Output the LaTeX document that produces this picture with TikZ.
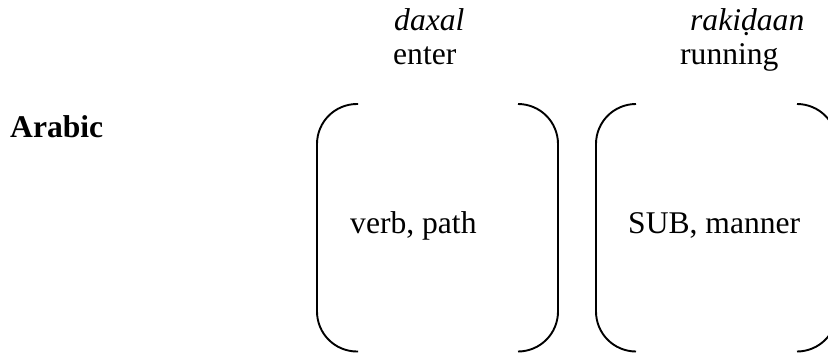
\documentclass[tikz,border=0pt]{standalone}
\usepackage{fontspec}
\setmainfont{Liberation Serif}
\begin{document}
\begin{tikzpicture}[x=1pt,y=-1pt,
  lbl/.style={inner sep=0pt,anchor=base west,font=\fontsize{31.6}{38}\selectfont},
  bracket/.style={draw=black,line width=1.9pt,rounded corners=40pt}]
\useasboundingbox (0,0) rectangle (828,353);
\clip (0,0) rectangle (828,353);
% labels
\node[lbl] (arabic) at (10,137) {\textbf{Arabic}};
\node[lbl] (daxal) at (394,31) {\textit{daxal}};
\node[lbl] (enter) at (393,65) {enter};
\node[lbl] (rakidaan) at (690,31) {\textit{rakiḍaan}};
\node[lbl] (running) at (680,65) {running};
\node[lbl] (verbpath) at (350,233) {verb, path};
\node[lbl] (submanner) at (628,233) {SUB, manner};
% first box (brackets)
\draw[bracket] (358,104) -- (317,104) -- (317,351.5) -- (358,351.5);
\draw[bracket] (518,104) -- (558,104) -- (558,351.5) -- (518,351.5);
% second box (brackets)
\draw[bracket] (636,104) -- (596,104) -- (596,351.5) -- (636,351.5);
\draw[bracket] (797,104) -- (837,104) -- (837,351.5) -- (797,351.5);
\end{tikzpicture}
\end{document}
